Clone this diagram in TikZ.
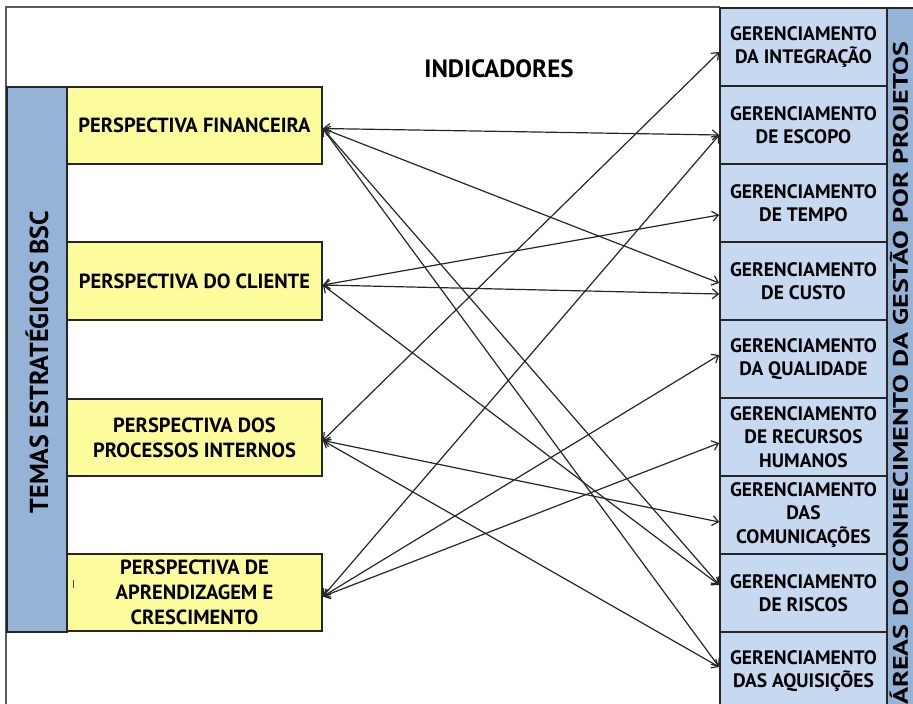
\documentclass[tikz,border=0pt]{standalone}
\usepackage{fontspec}
\setmainfont{PT Sans}
\usetikzlibrary{arrows.meta}
\definecolor{ylw}{HTML}{FCFC9C}
\definecolor{lblue}{HTML}{C6D9F1}
\definecolor{dblue}{HTML}{95B3D7}
\definecolor{edge}{HTML}{262626}
\definecolor{frm}{HTML}{5A5A5A}
\begin{document}
\begin{tikzpicture}[x=1pt,y=-1pt,
  ybox/.style={draw=edge, line width=1.6pt, fill=ylw, minimum width=255pt, minimum height=77.5pt, inner sep=0pt, align=center, font=\fontsize{20.5}{25}\selectfont\bfseries},
  bbox/.style={draw=edge, line width=1.6pt, fill=lblue, minimum width=167pt, minimum height=78pt, inner sep=0pt, align=center, font=\fontsize{19.5}{23.5}\selectfont\bfseries},
  bar/.style={draw=edge, line width=1.6pt, fill=dblue},
  link/.style={draw=black!85, line width=1.2pt, {Straight Barb[length=6pt,width=10pt]}-{Straight Barb[length=6pt,width=10pt]}}
]
\useasboundingbox (0,0) rectangle (913,704);
\begin{scope}
\clip (0,0) rectangle (913,704);
% outer frame
\draw[frm, line width=1.6pt] (6,720) -- (6,7) -- (720,7);
% left bar
\draw[bar] (7,87) rectangle (67,632);
\node[rotate=90, inner sep=0pt, font=\fontsize{26}{30}\selectfont\bfseries] (bsc) at (37,362) {TEMAS ESTRATÉGICOS BSC};
% right bar
\draw[bar] (887,8) rectangle (930,720);
\node[rotate=90, inner sep=0pt, font=\fontsize{21}{24}\selectfont\bfseries] (areas) at (899,373) {\scalebox{1.34}[1]{ÁREAS DO CONHECIMENTO DA GESTÃO POR PROJETOS}};
% title
\node[font=\fontsize{25}{28}\selectfont\bfseries] (ind) at (499,69) {INDICADORES};
% yellow boxes
\node[ybox] (fin) at (194.5,125.5) {PERSPECTIVA FINANCEIRA};
\node[ybox] (cli) at (194.5,281) {PERSPECTIVA DO CLIENTE};
\node[ybox] (proc) at (194.5,437.5) {PERSPECTIVA DOS\\PROCESSOS INTERNOS};
\node[ybox] (apr) at (194.5,592.5) {PERSPECTIVA DE\\APRENDIZAGEM E\\CRESCIMENTO};
\draw[line width=0.8pt, draw=brown!60!black] (73,580) -- (73,588);
% blue boxes
\node[bbox] (r1) at (803.5,47) {GERENCIAMENTO\\DA INTEGRAÇÃO};
\node[bbox] (r2) at (803.5,125) {GERENCIAMENTO\\DE ESCOPO};
\node[bbox] (r3) at (803.5,203) {GERENCIAMENTO\\DE TEMPO};
\node[bbox] (r4) at (803.5,281) {GERENCIAMENTO\\DE CUSTO};
\node[bbox] (r5) at (803.5,359) {GERENCIAMENTO\\DA QUALIDADE};
\node[bbox] (r6) at (803.5,437) {GERENCIAMENTO\\DE RECURSOS\\HUMANOS};
\node[bbox] (r7) at (803.5,515) {GERENCIAMENTO\\DAS\\COMUNICAÇÕES};
\node[bbox] (r8) at (803.5,593) {GERENCIAMENTO\\DE RISCOS};
\node[bbox] (r9) at (803.5,671) {GERENCIAMENTO\\DAS AQUISIÇÕES};
% links
\draw[link] ([yshift=-3pt]fin.east) -- ([yshift=-10pt]r2.west);
\draw[link] ([yshift=-3pt]fin.east) -- ([yshift=-2pt]r4.west);
\draw[link] ([yshift=-3pt]fin.east) -- ([yshift=8pt]r8.west);
\draw[link] ([yshift=-3pt]fin.east) -- ([yshift=4pt]r9.west);
\draw[link] ([yshift=-4pt]cli.east) -- ([yshift=-12pt]r3.west);
\draw[link] ([yshift=-4pt]cli.east) -- ([yshift=-13pt]r4.west);
\draw[link] ([yshift=-4pt]cli.east) -- ([yshift=8pt]r8.west);
\draw[link] ([yshift=-3pt]proc.east) -- ([yshift=-5pt]r1.west);
\draw[link] ([yshift=-3pt]proc.east) -- ([yshift=-7pt]r7.west);
\draw[link] ([yshift=-3pt]proc.east) -- ([yshift=4pt]r9.west);
\draw[link] ([yshift=-4pt]apr.east) -- ([yshift=-10pt]r2.west);
\draw[link] ([yshift=-4pt]apr.east) -- ([yshift=4pt]r5.west);
\draw[link] ([yshift=-4pt]apr.east) -- ([yshift=-6pt]r6.west);
\end{scope}
\end{tikzpicture}
\end{document}
